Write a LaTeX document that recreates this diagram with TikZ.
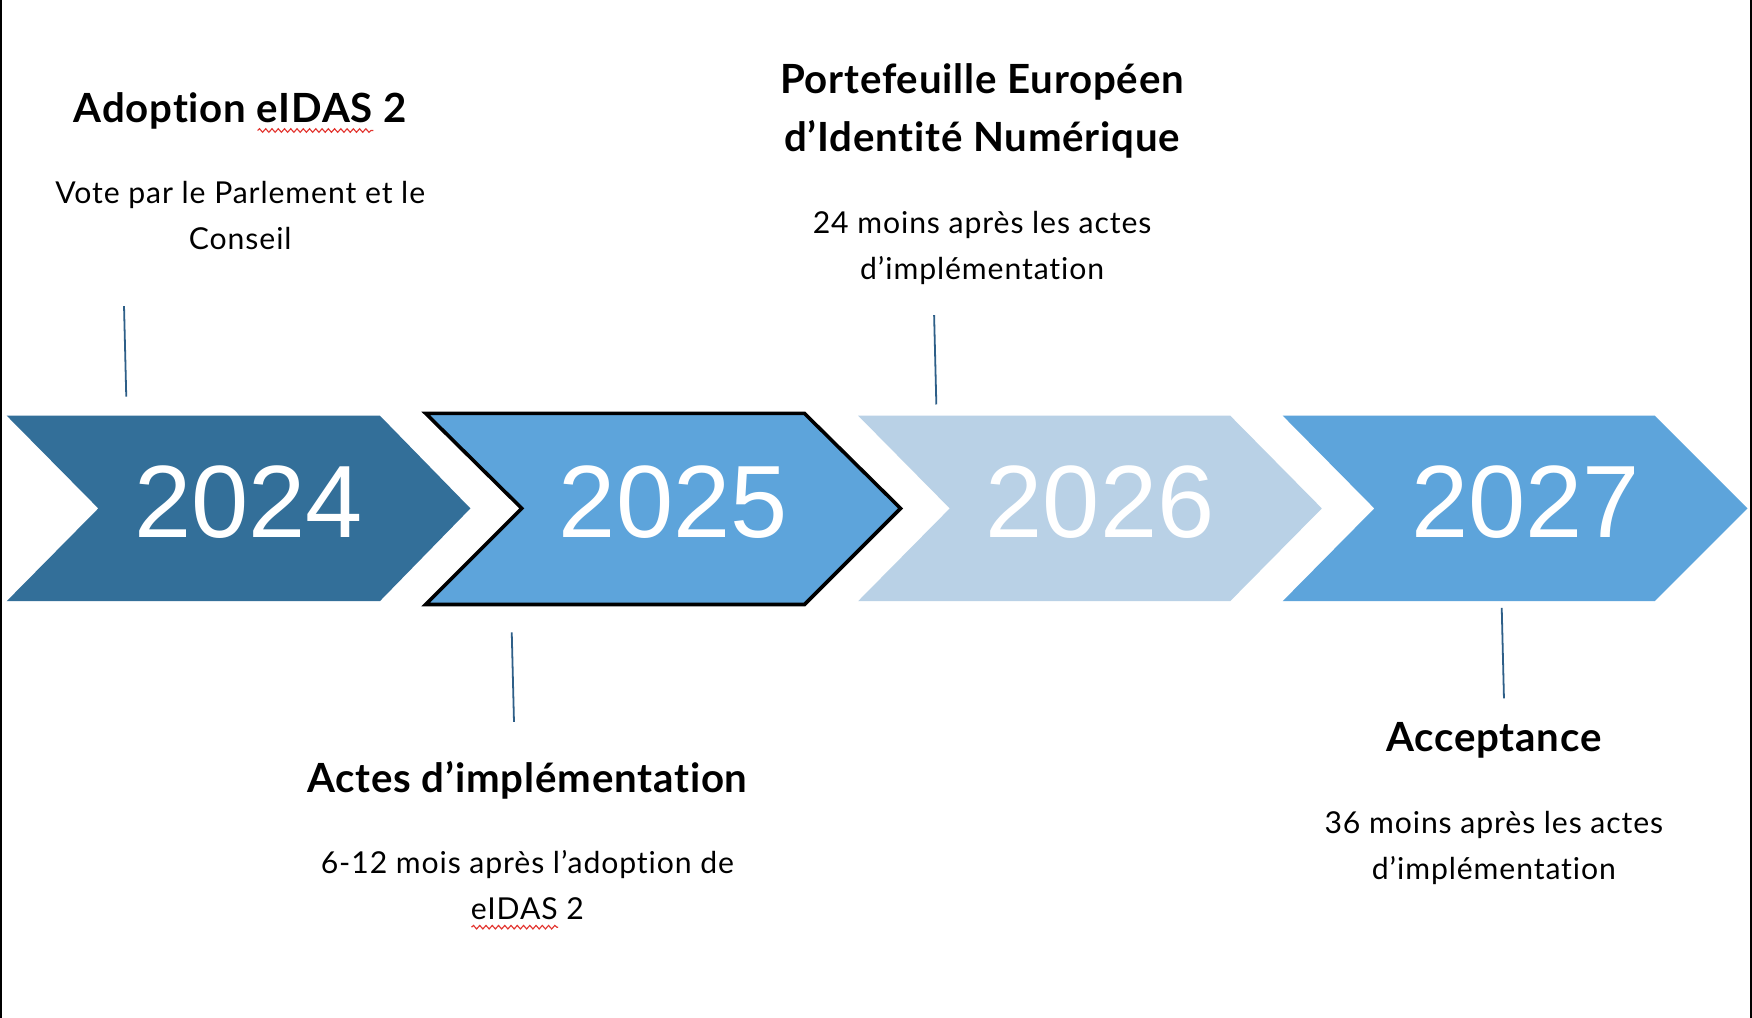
\documentclass[tikz,border=0pt]{standalone}
\usepackage{fontspec}
\usetikzlibrary{decorations.pathmorphing}
\newfontfamily\latofont[Ligatures={NoCommon,NoRare}]{Lato}
\newfontfamily\yearfont{Liberation Sans}
\definecolor{cDark}{HTML}{336F99}
\definecolor{cMid}{HTML}{5DA4DB}
\definecolor{cLight}{HTML}{B9D1E6}
\definecolor{cLine}{HTML}{2E5F88}
\definecolor{cSquig}{HTML}{E3342F}
\newlength\sqw
\newcommand\squig[1]{\settowidth\sqw{#1}\leavevmode\rlap{\tikz[baseline=0pt]\draw[cSquig,line width=0.5pt,decorate,decoration={snake,amplitude=0.8pt,segment length=2.8pt}] (0pt,-3.4pt)--(\sqw,-3.4pt);}#1}
\tikzset{
  year/.style={font=\yearfont\fontsize{46pt}{46pt}\selectfont, text=white, inner sep=0pt},
  headtxt/.style={font=\latofont\bfseries\fontsize{18pt}{20pt}\selectfont\addfontfeature{LetterSpace=2}, anchor=base, inner sep=0pt},
  bodytxt/.style={font=\latofont\fontsize{13.5pt}{15pt}\selectfont\addfontfeature{LetterSpace=3}, anchor=base, inner sep=0pt},
  tick/.style={cLine, line width=0.8pt},
}
\begin{document}
\begin{tikzpicture}[x=0.5pt,y=-0.5pt]
\useasboundingbox (0,0) rectangle (1568,911);
\fill[white] (0,0) rectangle (1568,911);
% borders
\draw[line width=1pt] (1,0) -- (1,911);
\draw[line width=1pt] (1567,0) -- (1567,911);
% chevrons
\fill[cDark] (6,372) -- (340,372) -- (421,455) -- (340,538) -- (6,538) -- (88,455) -- cycle;
\filldraw[fill=cMid, draw=black, line width=1.6pt, line join=miter] (381,370) -- (720,370) -- (806,455) -- (720,541) -- (381,541) -- (467,455) -- cycle;
\fill[cLight] (768,372) -- (1101,372) -- (1183,455) -- (1101,538) -- (768,538) -- (850,455) -- cycle;
\fill[cMid] (1148,372) -- (1481,372) -- (1564,455) -- (1481,538) -- (1148,538) -- (1230,455) -- cycle;
% years
\node[year] (y24) at (222.5,449.5) {2024};
\node[year] (y25) at (602.5,449.5) {2025};
\node[year] (y26) at (984.5,449.5) {2026};
\node[year] (y27) at (1365.5,449.5) {2027};
% ticks
\coordinate (t1a) at (111,274); \coordinate (t1b) at (113,355);
\coordinate (t2a) at (836,282); \coordinate (t2b) at (838,362);
\coordinate (t3a) at (458,566); \coordinate (t3b) at (460,646);
\coordinate (t4a) at (1344,544); \coordinate (t4b) at (1346,625);
\draw[tick] (t1a) -- (t1b);
\draw[tick] (t2a) -- (t2b);
\draw[tick] (t3a) -- (t3b);
\draw[tick] (t4a) -- (t4b);
% labels
\node[headtxt] (h1) at (215,110) {Adoption \squig{eIDAS} 2};
\node[bodytxt] (b1a) at (215,182) {Vote par le Parlement et le};
\node[bodytxt] (b1b) at (215,223) {Conseil};
\node[headtxt] (h2a) at (879,84) {Portefeuille Européen};
\node[headtxt] (h2b) at (879,136) {d’Identité Numérique};
\node[bodytxt] (b2a) at (879,209) {24 moins après les actes};
\node[bodytxt] (b2b) at (879,250) {d’implémentation};
\node[headtxt] (h3) at (472,709) {Actes d’implémentation};
\node[bodytxt] (b3a) at (472,782) {6-12 mois après l’adoption de};
\node[bodytxt] (b3b) at (472,823) {\squig{eIDAS} 2};
\node[headtxt] (h4) at (1337,673) {Acceptance};
\node[bodytxt] (b4a) at (1337,746) {36 moins après les actes};
\node[bodytxt] (b4b) at (1337,787) {d’implémentation};
\end{tikzpicture}
\end{document}
